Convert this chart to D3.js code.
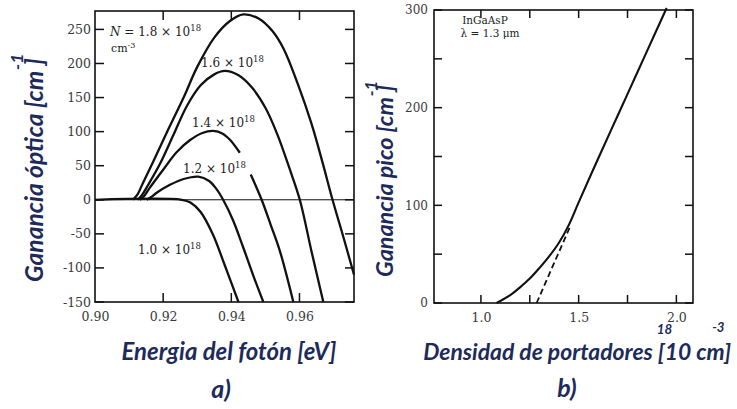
<!DOCTYPE html>
<html><head><meta charset="utf-8">
<script src="https://cdn.jsdelivr.net/npm/d3@7"></script>
<style>
body{margin:0;background:#fff;}
svg{display:block;}
</style></head>
<body><svg id="c" width="737" height="409"></svg>
<script>
// ---------- DATA ----------
// Panel a) : optical gain vs photon energy for several carrier densities
const energyTicks = [0.90, 0.92, 0.94, 0.96];
const gainTicksA = [-150, -100, -50, 0, 50, 100, 150, 200, 250];
const curveN18 = [[0.9111,0],[0.9125,8],[0.914,24],[0.917,55],[0.921,98],[0.926,150],[0.930,195],[0.935,238],[0.9395,262],[0.9435,272],[0.948,266],[0.952,248],[0.9553,222],[0.9595,170],[0.9635,112],[0.9667,56],[0.9697,0],[0.9729,-55],[0.976,-110]];
const curveN16 = [[0.9126,0],[0.9138,7],[0.9155,21],[0.919,52],[0.923,95],[0.927,138],[0.931,168],[0.935,184],[0.9381,189],[0.942,183],[0.946,165],[0.950,135],[0.9535,96],[0.957,47],[0.9601,0],[0.9635,-75],[0.967,-150]];
const curveN14 = [[0.9132,0],[0.9145,6],[0.916,17],[0.920,44],[0.924,70],[0.928,88],[0.9315,98],[0.9347,101],[0.9375,97],[0.9396,88],[0.9425,69],[0.944,null],[0.9457,37],[0.9489,0],[0.9515,-36],[0.9543,-76],[0.9582,-150]];
const curveN12 = [[0.9152,0],[0.9165,4],[0.918,10],[0.922,22],[0.926,30.5],[0.9303,34],[0.9335,27.5],[0.9355,16.7],[0.9376,0],[0.9405,-30],[0.9435,-70],[0.9465,-112],[0.9494,-150]];
const curveN10 = [[0.9000,0],[0.9255,0],[0.928,-4],[0.931,-18],[0.9346,-51],[0.938,-95],[0.9421,-150]];
const curvesA = [curveN18, curveN16, curveN14, curveN12, curveN10];
const densityLabels = ["1.8", "1.6", "1.4", "1.2", "1.0"];

// Panel b) : peak gain vs carrier density
const densityTicks = [1.0, 1.25, 1.5, 1.75, 2.0];
const densityLabelTicks = [1.0, 1.5, 2.0];
const peakGainTicks = [0, 50, 100, 150, 200, 250, 300];
const peakGainLabelTicks = [0, 100, 200, 300];
const peakGainSolid = [[1.08,0],[1.15,8],[1.2,16],[1.25,25],[1.3,36],[1.35,48],[1.4,62],[1.45,80],[1.5,103],[1.6,148],[1.7,192],[1.8,236],[1.9,280],[1.95,302]];
const peakGainDashed = [[1.285,0],[1.46,80]];

// ---------- LAYOUT ----------
const svg = d3.select('#c');
const ink = '#111';
const tickFont = "'DejaVu Serif', serif";
const titleFont = "Lato, 'Open Sans', sans-serif";
const titleColor = '#1d2a5c';

const xA = d3.scaleLinear().domain([0.90, 0.976]).range([95, 354]);
const yA = d3.scaleLinear().domain([-150, 277]).range([302, 11]);
const xB = d3.scaleLinear().domain([0.76, 2.085]).range([434, 693]);
const yB = d3.scaleLinear().domain([0, 300]).range([303, 10]);

function styleAxis(sel, fs) {
  sel.select('.domain').remove();
  sel.selectAll('.tick line').remove();
  sel.selectAll('.tick text').attr('fill', '#3a3a3a').attr('font-family', tickFont).attr('font-size', fs);
}

function frame(parent, x, y) {
  const [x0, x1] = x.range(), [y0, y1] = y.range();
  parent.append('rect').attr('x', x0).attr('y', y1).attr('width', x1 - x0).attr('height', y0 - y1)
    .attr('fill', 'none').attr('stroke', ink).attr('stroke-width', 1.6);
}

// inward tick marks on all four sides of a frame
function innerTicks(parent, x, y, xVals, yVals, len) {
  const [x0, x1] = x.range(), [y0, y1] = y.range();
  const g = parent.append('g').attr('stroke', ink).attr('stroke-width', 1.5);
  g.selectAll('line.l').data(yVals).join('line').attr('class', 'l')
    .attr('x1', x0).attr('x2', x0 + len).attr('y1', d => y(d)).attr('y2', d => y(d));
  g.selectAll('line.r').data(yVals).join('line').attr('class', 'r')
    .attr('x1', x1).attr('x2', x1 - len).attr('y1', d => y(d)).attr('y2', d => y(d));
  g.selectAll('line.b').data(xVals).join('line').attr('class', 'b')
    .attr('x1', d => x(d)).attr('x2', d => x(d)).attr('y1', y0).attr('y2', y0 - len);
  g.selectAll('line.t').data(xVals).join('line').attr('class', 't')
    .attr('x1', d => x(d)).attr('x2', d => x(d)).attr('y1', y1).attr('y2', y1 + len);
}

// ----- Panel a -----
const gA = svg.append('g');
const lineA = d3.line().defined(d => d[1] !== null).x(d => xA(d[0])).y(d => yA(d[1])).curve(d3.curveCatmullRom.alpha(0.5));
gA.append('line').attr('x1', xA.range()[0]).attr('x2', xA.range()[1]).attr('y1', yA(0)).attr('y2', yA(0))
  .attr('stroke', ink).attr('stroke-width', 1);
gA.selectAll('path.curve').data(curvesA).join('path').attr('class', 'curve')
  .attr('d', lineA).attr('fill', 'none').attr('stroke', ink).attr('stroke-width', 2.3).attr('stroke-linejoin', 'round');
frame(gA, xA, yA);
innerTicks(gA, xA, yA, energyTicks.slice(1), gainTicksA, 9);

const axA1 = gA.append('g').attr('transform', `translate(${xA.range()[0]},0)`)
  .call(d3.axisLeft(yA).tickValues(gainTicksA).tickSize(0).tickPadding(4).tickFormat(d => String(d)));
styleAxis(axA1, 12.5);
const axA3 = gA.append('g').attr('transform', `translate(0,${yA.range()[0]})`)
  .call(d3.axisBottom(xA).tickValues(energyTicks).tickSize(0).tickPadding(10).tickFormat(d3.format('.2f')));
styleAxis(axA3, 12.5);

// curve labels
function densLabel(x, y, prefix, val) {
  const t = gA.append('text').attr('x', x).attr('y', y).attr('font-family', tickFont).attr('font-size', 12).attr('fill', '#222');
  if (prefix) { t.append('tspan').attr('font-style', 'italic').text('N'); t.append('tspan').text(' = '); }
  t.append('tspan').text(val + ' × 10');
  t.append('tspan').attr('dy', -5).attr('font-size', 8.5).text('18');
  return t;
}
densLabel(110, 36, true, densityLabels[0]);
const cm3 = gA.append('text').attr('x', 111).attr('y', 52).attr('font-family', tickFont).attr('font-size', 11).attr('fill', '#222');
cm3.append('tspan').text('cm');
cm3.append('tspan').attr('dy', -4).attr('font-size', 8).text('-3');
densLabel(201, 67, false, densityLabels[1]);
densLabel(192, 127, false, densityLabels[2]);
densLabel(183, 173, false, densityLabels[3]);
densLabel(138, 254, false, densityLabels[4]);

// ----- Panel b -----
const gB = svg.append('g');
const lineB = d3.line().x(d => xB(d[0])).y(d => yB(d[1])).curve(d3.curveCatmullRom.alpha(0.5));
gB.append('path').datum(peakGainSolid).attr('d', lineB).attr('fill', 'none').attr('stroke', ink).attr('stroke-width', 2.1);
gB.append('path').datum(peakGainDashed).attr('d', lineB).attr('fill', 'none').attr('stroke', ink).attr('stroke-width', 1.8).attr('stroke-dasharray', '6,3.5');
frame(gB, xB, yB);
innerTicks(gB, xB, yB, densityTicks, peakGainTicks, 8);

const axB1 = gB.append('g').attr('transform', `translate(${xB.range()[0]},0)`)
  .call(d3.axisLeft(yB).tickValues(peakGainLabelTicks).tickSize(0).tickPadding(6).tickFormat(d => String(d)));
styleAxis(axB1, 12);
const axB3 = gB.append('g').attr('transform', `translate(0,${yB.range()[0]})`)
  .call(d3.axisBottom(xB).tickValues(densityLabelTicks).tickSize(0).tickPadding(10).tickFormat(d3.format('.1f')));
styleAxis(axB3, 12.5);

gB.append('text').attr('x', 485).attr('y', 24).attr('text-anchor', 'middle').attr('font-family', tickFont).attr('font-size', 10.5).attr('fill', '#222').text('InGaAsP');
gB.append('text').attr('x', 490).attr('y', 37).attr('text-anchor', 'middle').attr('font-family', tickFont).attr('font-size', 10.5).attr('fill', '#222').text('λ = 1.3 μm');

// ----- Titles -----
function fitText(t, target, fs) {
  t.attr('font-size', fs);
  const len = t.node().getComputedTextLength();
  const nfs = fs * target / len;
  t.attr('font-size', nfs);
  return nfs;
}
function titleText(parent) {
  return parent.append('text').attr('font-family', titleFont).attr('font-style', 'italic').attr('font-weight', 700).attr('fill', titleColor);
}
const tA = titleText(svg).attr('x', 229).attr('y', 360).attr('text-anchor', 'middle').text('Energia del fotón [eV]');
fitText(tA, 215, 20);

const tB = titleText(svg).attr('x', 731).attr('y', 360).attr('text-anchor', 'end').text('Densidad de portadores [10 cm]');
const fsB = fitText(tB, 308, 20);
{
  const s = tB.text();
  const n = tB.node();
  const i0 = s.indexOf('10') + 1;
  const p0 = n.getStartPositionOfChar(i0).x, e0 = n.getEndPositionOfChar(i0).x;
  const im = s.indexOf('cm') + 1;
  const pm = n.getStartPositionOfChar(im).x, em = n.getEndPositionOfChar(im).x;
  titleText(svg).attr('x', (p0 + e0) / 2 - 20).attr('y', 334).attr('text-anchor', 'middle').attr('font-size', fsB * 0.58).text('18');
  titleText(svg).attr('x', (pm + em) / 2 + 3).attr('y', 332).attr('text-anchor', 'middle').attr('font-size', fsB * 0.58).text('-3');
}

function yTitle(cx, cy, txt, target, supOffset) {
  const g = svg.append('g').attr('transform', `translate(${cx},${cy}) rotate(-90)`);
  const t = titleText(g).attr('x', 0).attr('y', 0).attr('text-anchor', 'middle').text(txt);
  const fs = fitText(t, target, 20);
  const s = t.text(), n = t.node();
  const ib = s.indexOf(']');
  const pb = n.getStartPositionOfChar(ib).x, eb = n.getEndPositionOfChar(ib).x;
  titleText(g).attr('x', (pb + eb) / 2).attr('y', supOffset).attr('text-anchor', 'middle').attr('font-size', fs * 0.72).text('-1');
}
yTitle(43, 170, 'Ganancia óptica [cm ]', 224, -20);
yTitle(393, 181, 'Ganancia pico [cm ]', 192, -16);

titleText(svg).attr('x', 221).attr('y', 398).attr('text-anchor', 'middle').attr('font-size', 25).text('a)');
titleText(svg).attr('x', 567).attr('y', 397).attr('text-anchor', 'middle').attr('font-size', 25).text('b)');
</script>
</body></html>
